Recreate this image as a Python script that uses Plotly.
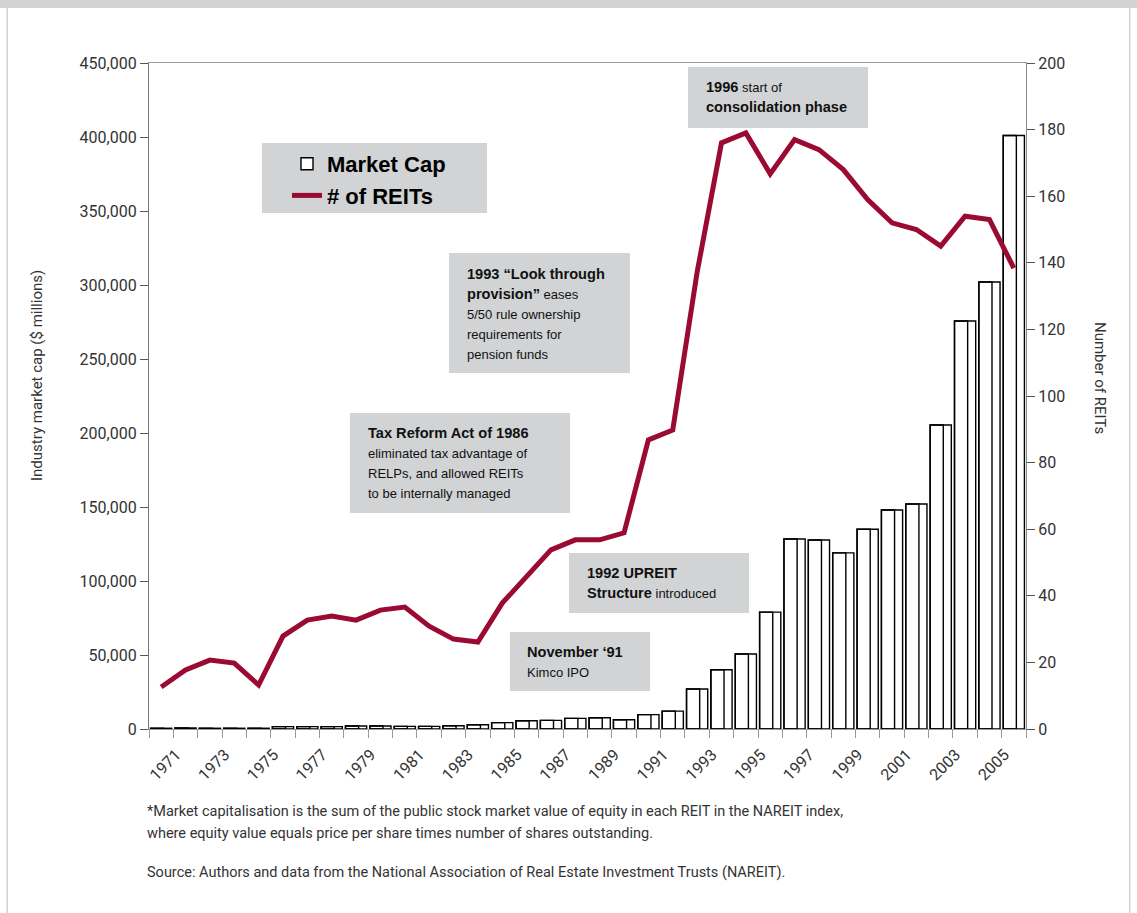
import plotly.graph_objects as go

# ---------------- data ----------------
years = list(range(1971, 2007))
market_cap = [500, 700, 500, 500, 500, 1600, 1600, 1600, 2000, 2000,
              1800, 1800, 2200, 2900, 4300, 5600, 5800, 7200, 7600, 6300,
              9700, 12100, 27000, 40000, 50700, 79000, 128400, 127700, 119000, 135000,
              148000, 152000, 205400, 275700, 302000, 401000]
num_reits = [12.6, 17.7, 20.7, 19.8, 13.2, 27.9, 32.7, 33.9, 32.7, 35.7,
             36.6, 30.9, 27.0, 26.1, 37.8, 45.6, 53.8, 56.8, 56.8, 58.9,
             86.8, 89.8, 137.2, 176.0, 179.0, 166.7, 177.0, 174.0, 168.0, 159.0,
             152.0, 150.0, 145.0, 154.0, 153.0, 138.4]
label_years = [y for y in years if y % 2 == 1 and y <= 2005]
left_ticks = list(range(0, 450001, 50000))
right_ticks = list(range(0, 201, 20))

B = "<span style='font-size:14.6px'><b>{}</b></span>"
notes = [
    [B.format("1996") + " start of", B.format("consolidation phase")],
    [B.format("1993 \u201cLook through"), B.format("provision\u201d") + " eases", "5/50 rule ownership",
     "requirements for", "pension funds"],
    [B.format("Tax Reform Act of 1986"), "eliminated tax advantage of", "RELPs, and allowed REITs",
     "to be internally managed"],
    [B.format("1992 UPREIT"), B.format("Structure") + " introduced"],
    [B.format("November \u201891"), "Kimco IPO"],
]
footnotes = [
    "*Market capitalisation is the sum of the public stock market value of equity in each REIT in the NAREIT index,",
    "where equity value equals price per share times number of shares outstanding.",
    "Source: Authors and data from the National Association of Real Estate Investment Trusts (NAREIT).",
]

# ---------------- layout geometry (pixels) ----------------
W, H = 1137, 913
PL, PR, PT, PB = 149, 1026, 63, 729


def px(x):
    return (x - PL) / (PR - PL)


def py(y):
    return (PB - y) / (PB - PT)


BOX = "#d1d3d4"
RED = "#9b0a33"
AXC = "#333333"
FONT = "Roboto"
AFONT = "Liberation Sans"

fig = go.Figure()

bw = 0.87
fig.add_trace(go.Bar(x=years, y=market_cap, name="Market Cap", width=bw,
                     marker=dict(color="white", line=dict(color="black", width=1.4)),
                     yaxis="y"))
fig.add_trace(go.Bar(x=years, y=market_cap, name="Market Cap", width=bw * 0.62,
                     offset=-bw / 2, showlegend=False, hoverinfo="skip",
                     marker=dict(color="rgba(0,0,0,0)", line=dict(color="black", width=1.4)),
                     yaxis="y"))
fig.add_trace(go.Scatter(x=years, y=num_reits, name="# of REITs", mode="lines",
                         line=dict(color=RED, width=5), yaxis="y2"))

shapes = []
# page frame
shapes.append(dict(type="rect", xref="paper", yref="paper", x0=px(0), x1=px(W), y0=py(0), y1=py(8),
                   fillcolor=BOX, line=dict(width=0), layer="below"))
shapes.append(dict(type="rect", xref="paper", yref="paper", x0=px(6.5), x1=px(8), y0=py(913), y1=py(8),
                   fillcolor=BOX, line=dict(width=0), layer="below"))
shapes.append(dict(type="rect", xref="paper", yref="paper", x0=px(1129), x1=px(1130.5), y0=py(913), y1=py(8),
                   fillcolor=BOX, line=dict(width=0), layer="below"))

# note boxes (pixel rects) and text anchor positions
boxes = [
    ((688, 67, 868, 128), (704, 87)),
    ((449, 253, 630, 373), (465, 274)),
    ((350, 413, 570, 513), (366, 433)),
    ((569, 553, 749, 613), (585, 573)),
    ((510, 632, 650, 691), (525, 652)),
]
# legend box
shapes.append(dict(type="rect", xref="paper", yref="paper", x0=px(262), x1=px(487), y0=py(213), y1=py(143),
                   fillcolor=BOX, line=dict(width=0), layer="below"))

annotations = []
for (rect, (tx, ty)), lines in zip(boxes, notes):
    x0, y0, x1, y1 = rect
    shapes.append(dict(type="rect", xref="paper", yref="paper", x0=px(x0), x1=px(x1), y0=py(y1), y1=py(y0),
                       fillcolor=BOX, line=dict(width=0), layer="below"))
    for i, t in enumerate(lines):
        annotations.append(dict(text=t, xref="paper", yref="paper", x=px(tx), y=py(ty + 20.2 * i),
                                xanchor="left", yanchor="middle", showarrow=False, align="left",
                                font=dict(family=AFONT, size=13, color="#111")))

fy = [812, 833, 872]
for t, y in zip(footnotes, fy):
    annotations.append(dict(text=t, xref="paper", yref="paper", x=px(145), y=py(y),
                            xanchor="left", yanchor="middle", showarrow=False, align="left",
                            font=dict(family=FONT, size=14.5, color=AXC)))

annotations.append(dict(text="Industry market cap ($ millions)", xref="paper", yref="paper",
                        x=px(37), y=py(376), textangle=-90, showarrow=False,
                        xanchor="center", yanchor="middle", font=dict(family=FONT, size=15, color=AXC)))
annotations.append(dict(text="Number of REITs", xref="paper", yref="paper",
                        x=px(1100), y=py(378), textangle=90, showarrow=False,
                        xanchor="center", yanchor="middle", font=dict(family=FONT, size=15, color=AXC)))

fig.update_layout(
    width=W, height=H,
    margin=dict(l=PL, r=W - PR, t=PT, b=H - PB, autoexpand=False),
    paper_bgcolor="white", plot_bgcolor="white",
    barmode="overlay",
    shapes=shapes, annotations=annotations,
    showlegend=True,
    legend=dict(x=px(287), y=py(143), xanchor="left", yanchor="top", bgcolor="rgba(0,0,0,0)",
                font=dict(family=AFONT, size=22, color="black", weight="bold"),
                itemwidth=30, tracegroupgap=0),
    xaxis=dict(range=[1970.5, 2006.5], tickmode="array", tickvals=label_years,
               ticktext=[str(y) for y in label_years], tickangle=-45,
               ticks="outside", ticklen=9, tickcolor="rgba(0,0,0,0)", ticklabelshift=15,
               tickfont=dict(family=FONT, size=16, color=AXC),
               minor=dict(tick0=1970.5, dtick=1, ticks="outside", ticklen=8, tickcolor="#999", showgrid=False),
               showline=True, linecolor="#999", linewidth=1.2, mirror=True,
               showgrid=False, zeroline=False),
    yaxis=dict(range=[0, 450000], tickmode="array", tickvals=left_ticks,
               ticktext=[f"{v:,}" for v in left_ticks],
               ticks="outside", ticklen=8, tickcolor="#555",
               tickfont=dict(family=FONT, size=16, color=AXC),
               showline=True, linecolor="#777", linewidth=1.3,
               showgrid=False, zeroline=False),
    yaxis2=dict(range=[0, 200], overlaying="y", side="right", tickmode="array", tickvals=right_ticks,
                ticks="outside", ticklen=8, tickcolor="#555",
                tickfont=dict(family=FONT, size=16, color=AXC),
                showline=True, linecolor="#888", linewidth=1.2,
                showgrid=False, zeroline=False),
)

fig.write_html("out.html", config={"displayModeBar": False},
               post_script="document.body.style.margin='0';document.body.style.overflow='hidden';")
